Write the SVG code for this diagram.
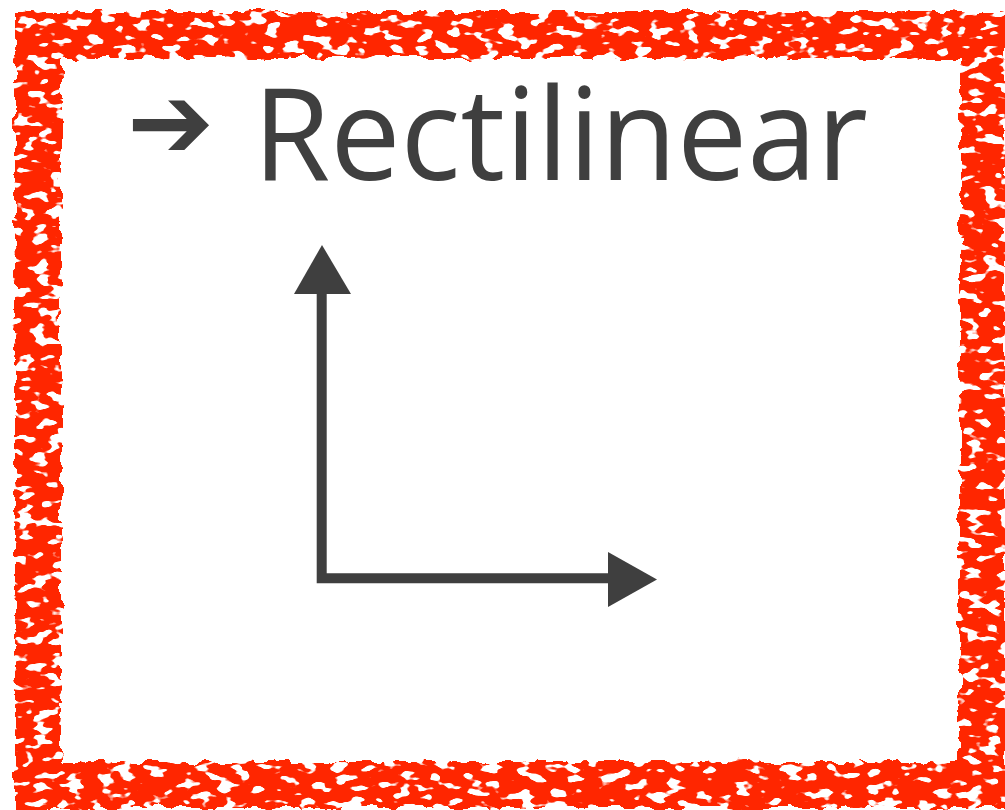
<svg xmlns="http://www.w3.org/2000/svg" width="1005" height="810" viewBox="0 0 1005 810">
  <style>
    .frame { fill: none; stroke: #ff2700; stroke-width: 46; stroke-linejoin: miter; }
    .ink { fill: #3f3f3f; }
    .axis { stroke: #3f3f3f; stroke-width: 10; fill: none; stroke-linecap: butt; stroke-linejoin: miter; }
    .title { font-family: "Open Sans", "Liberation Sans", sans-serif; font-size: 128px; fill: #3f3f3f; }
    .bullet { font-family: "DejaVu Sans", sans-serif; font-size: 104px; font-weight: bold; fill: #3f3f3f; }
  </style>
  <defs>
    <filter id="rough" filterUnits="userSpaceOnUse" x="0" y="0" width="1005" height="810">
      <feTurbulence type="fractalNoise" baseFrequency="0.06" numOctaves="3" seed="4" result="n"/>
      <feDisplacementMap in="SourceGraphic" in2="n" scale="12" xChannelSelector="R" yChannelSelector="G" result="d"/>
      <feTurbulence type="fractalNoise" baseFrequency="0.06 0.11" numOctaves="2" seed="11" result="n2"/>
      <feColorMatrix in="n2" type="matrix" values="0 0 0 0 0  0 0 0 0 0  0 0 0 0 0  0 0 0 -18 11.2" result="holes"/>
      <feComposite in="d" in2="holes" operator="in"/>
    </filter>
  </defs>
  <rect width="1005" height="810" fill="#ffffff"/>
  <g id="frame" filter="url(#rough)">
    <rect class="frame" x="38" y="35" width="945" height="750"/>
  </g>
  <g id="title">
    <text class="bullet" x="127" y="158">➔</text>
    <text class="title" x="253" y="180" textLength="615" lengthAdjust="spacingAndGlyphs">Rectilinear</text>
  </g>
  <g id="connectors">
    <polyline class="axis" points="321.7,292 321.7,578.3 610,578.3"/>
    <polygon class="ink" points="322,245 294,294 351,294"/>
    <polygon class="ink" points="608,552 657,579.5 608,607"/>
  </g>
</svg>
